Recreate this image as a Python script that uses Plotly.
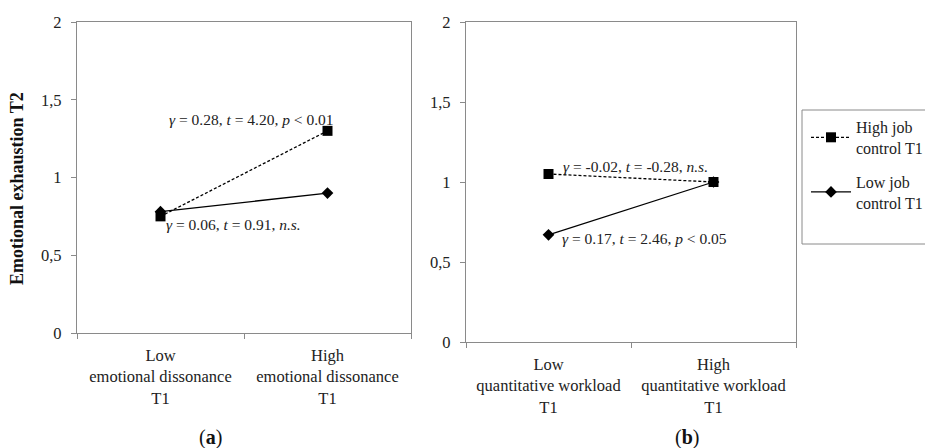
import plotly.graph_objects as go

# ---- data ----
categories_a = ["Low<br>emotional dissonance<br>T1", "High<br>emotional dissonance<br>T1"]
categories_b = ["Low<br>quantitative workload<br>T1", "High<br>quantitative workload<br>T1"]
high_control_a = [0.75, 1.30]
low_control_a = [0.78, 0.90]
high_control_b = [1.05, 1.00]
low_control_b = [0.67, 1.00]
series_names = ["High job<br>control T1", "Low job<br>control T1"]
y_tickvals = [0, 0.5, 1, 1.5, 2]
y_ticktext = ["0", "0,5", "1", "1,5", "2"]

FONT = "Liberation Serif"
GRAY = "#8a8a8a"
TXT = "#222"
W, H = 925, 448

fig = go.Figure()

def add_panel(xref, yref, cats, hi, lo, showlegend):
    fig.add_trace(go.Scatter(
        x=cats, y=hi, xaxis=xref, yaxis=yref, name=series_names[0],
        mode="lines+markers", showlegend=showlegend, legendgroup="hi",
        line=dict(color="black", width=1.3, dash="3px,2px"),
        marker=dict(symbol="square", size=10, color="black")))
    fig.add_trace(go.Scatter(
        x=cats, y=lo, xaxis=xref, yaxis=yref, name=series_names[1],
        mode="lines+markers", showlegend=showlegend, legendgroup="lo",
        line=dict(color="black", width=1.3),
        marker=dict(symbol="diamond", size=9, color="black")))

add_panel("x", "y", categories_a, high_control_a, low_control_a, True)
add_panel("x2", "y2", categories_b, high_control_b, low_control_b, False)

def px_x(p):
    return p / W

def px_y(p):
    return 1 - p / H

axis_common = dict(showline=True, linecolor=GRAY, linewidth=1.3, mirror=True,
                   showgrid=False, zeroline=False, ticks="outside", ticklen=5,
                   tickcolor=GRAY, automargin=False,
                   tickfont=dict(family=FONT, size=16.5, color=TXT))

fig.update_layout(
    width=W, height=H, margin=dict(l=0, r=0, t=0, b=0, autoexpand=False),
    paper_bgcolor="white", plot_bgcolor="white",
    font=dict(family=FONT, size=16.5, color=TXT),
    xaxis=dict(domain=[px_x(77), px_x(411)], type="category", range=[-0.5, 1.5],
               tickson="boundaries", anchor="y", ticklabelstandoff=7, **axis_common),
    yaxis=dict(domain=[px_y(333), px_y(22)], range=[0, 2], tickvals=y_tickvals,
               ticktext=y_ticktext, anchor="x", ticklabelstandoff=6, **axis_common),
    xaxis2=dict(domain=[px_x(466), px_x(796)], type="category", range=[-0.5, 1.5],
                tickson="boundaries", anchor="y2", ticklabelstandoff=7, **axis_common),
    yaxis2=dict(domain=[px_y(342), px_y(22)], range=[0, 2], tickvals=y_tickvals,
                ticktext=y_ticktext, anchor="x2", ticklabelstandoff=6, **axis_common),
    legend=dict(x=px_x(806), y=px_y(110), xanchor="left", yanchor="top",
                borderwidth=0, bgcolor="rgba(0,0,0,0)",
                font=dict(family=FONT, size=16, color=TXT),
                tracegroupgap=10, itemwidth=40),
)

# legend frame (taller than plotly's own legend box, as in the reference)
fig.add_shape(type="rect", xref="paper", yref="paper",
              x0=px_x(802), x1=px_x(940), y0=px_y(244), y1=px_y(110),
              line=dict(color=GRAY, width=1), layer="below")

ann_font = dict(family=FONT, size=15.5, color=TXT)
fig.add_annotation(x=0.542, y=1.37, xref="x", yref="y", showarrow=False, font=ann_font,
                   text="<i>γ</i> = 0.28, <i>t</i> = 4.20, <i>p</i> < 0.01")
fig.add_annotation(x=0.437, y=0.695, xref="x", yref="y", showarrow=False, font=ann_font,
                   text="<i>γ</i> = 0.06, <i>t</i> = 0.91, <i>n.s.</i>")
fig.add_annotation(x=0.527, y=1.10, xref="x2", yref="y2", showarrow=False, font=ann_font,
                   text="<i>γ</i> = -0.02, <i>t</i> = -0.28, <i>n.s.</i>")
fig.add_annotation(x=0.579, y=0.644, xref="x2", yref="y2", showarrow=False, font=ann_font,
                   text="<i>γ</i> = 0.17, <i>t</i> = 2.46, <i>p</i> < 0.05")

fig.add_annotation(x=px_x(17), y=px_y(189), xref="paper", yref="paper", showarrow=False,
                   xanchor="center", yanchor="middle", textangle=-90,
                   text="<b>Emotional exhaustion T2</b>",
                   font=dict(family=FONT, size=18, color="#111"))
fig.add_annotation(x=px_x(210), y=px_y(437), xref="paper", yref="paper", showarrow=False,
                   xanchor="center", yanchor="middle",
                   text="(<b>a</b>)", font=dict(family=FONT, size=20, color="#111"))
fig.add_annotation(x=px_x(687), y=px_y(437), xref="paper", yref="paper", showarrow=False,
                   xanchor="center", yanchor="middle",
                   text="(<b>b</b>)", font=dict(family=FONT, size=20, color="#111"))

fig.write_html("out.html", config={"displayModeBar": False},
               post_script="document.body.style.margin='0';")
